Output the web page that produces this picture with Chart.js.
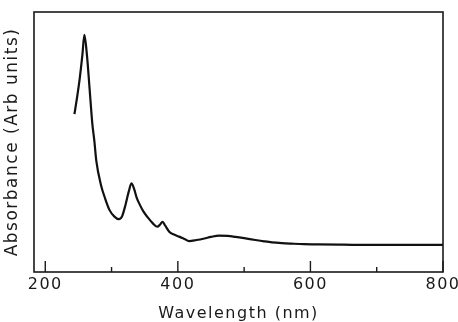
<!DOCTYPE html>
<html>
<head>
<meta charset="utf-8">
<script src="https://cdn.jsdelivr.net/npm/chart.js@4.4.1/dist/chart.umd.min.js"></script>
<style>
  html, body { margin:0; padding:0; background:#fff; }
  #wrap { width:458px; height:322px; }
</style>
</head>
<body>
<div id="wrap"><canvas id="specChart" width="458" height="322"></canvas></div>
<script>
// spectrum (wavelength nm, absorbance arb. units)
const wavelengths=[244,248,252,256,259,263,267,271,274,277,284,290,297,304,311,316,321,326,330,334,338,342,348,354,362,369,373,377,381,387,395,402,410,417,428,440,450,462,475,487,500,517,530,542,557,572,590,612,650,700,750,800];
const absorbance=[0.607,0.672,0.745,0.835,0.912,0.83,0.70,0.57,0.505,0.427,0.335,0.285,0.238,0.214,0.203,0.215,0.258,0.310,0.341,0.320,0.285,0.262,0.233,0.212,0.188,0.174,0.182,0.193,0.178,0.155,0.143,0.136,0.127,0.119,0.123,0.129,0.135,0.140,0.139,0.135,0.130,0.123,0.118,0.114,0.111,0.109,0.107,0.106,0.105,0.104,0.104,0.104];

const xTickLabels=[200,400,600,800];
const xMinorTicks=[300,500,700];

const points=wavelengths.map((w,i)=>({x:w,y:absorbance[i]}));

// spaced-out lettering like the plotter font
const spacingPlugin={
  id:'spacing',
  beforeDraw(chart){ chart.ctx.letterSpacing='1.5px'; }
};

// frame + inward ticks
const framePlugin={
  id:'frame',
  afterDraw(chart){
    const {ctx,chartArea:a,scales}=chart;
    ctx.save();
    ctx.strokeStyle='#1a1a1a';
    ctx.lineWidth=1.6;
    ctx.strokeRect(a.left,a.top,a.right-a.left,a.bottom-a.top);
    ctx.lineWidth=1.4;
    xTickLabels.forEach(v=>{
      const px=scales.x.getPixelForValue(v);
      ctx.beginPath();ctx.moveTo(px,a.bottom);ctx.lineTo(px,a.bottom-11);ctx.stroke();
    });
    xMinorTicks.forEach(v=>{
      const px=scales.x.getPixelForValue(v);
      ctx.beginPath();ctx.moveTo(px,a.bottom);ctx.lineTo(px,a.bottom-5);ctx.stroke();
    });
    ctx.restore();
  }
};

const ctx=document.getElementById('specChart').getContext('2d');
new Chart(ctx,{
  type:'line',
  data:{
    datasets:[{
      data:points,
      borderColor:'#111',
      borderWidth:2.2,
      pointRadius:0,
      fill:false,
      cubicInterpolationMode:'monotone'
    }]
  },
  options:{
    responsive:false,
    animation:false,
    layout:{padding:{top:12,right:15,left:0,bottom:0}},
    plugins:{legend:{display:false},tooltip:{enabled:false}},
    scales:{
      x:{
        type:'linear',
        min:183,
        max:800,
        grid:{display:false,drawTicks:false},
        border:{display:false},
        afterBuildTicks(scale){ scale.ticks=xTickLabels.map(v=>({value:v})); },
        afterFit(scale){ scale.height=50; scale.paddingLeft=0; scale.paddingRight=0; },
        ticks:{
          color:'#1a1a1a',
          padding:3,
          maxRotation:0,
          autoSkip:false,
          font:{family:'DejaVu Sans',size:16}
        },
        title:{
          display:true,
          text:'Wavelength (nm)',
          color:'#1a1a1a',
          padding:{top:0,bottom:0},
          font:{family:'DejaVu Sans',size:16,lineHeight:1}
        }
      },
      y:{
        min:0,
        max:1,
        grid:{display:false,drawTicks:false},
        border:{display:false},
        ticks:{display:false},
        afterFit(scale){ scale.width=34; },
        title:{
          display:true,
          text:'Absorbance (Arb units)',
          color:'#1a1a1a',
          padding:{top:2,bottom:0},
          font:{family:'DejaVu Sans',size:17}
        }
      }
    }
  },
  plugins:[spacingPlugin,framePlugin]
});
</script>
</body>
</html>
